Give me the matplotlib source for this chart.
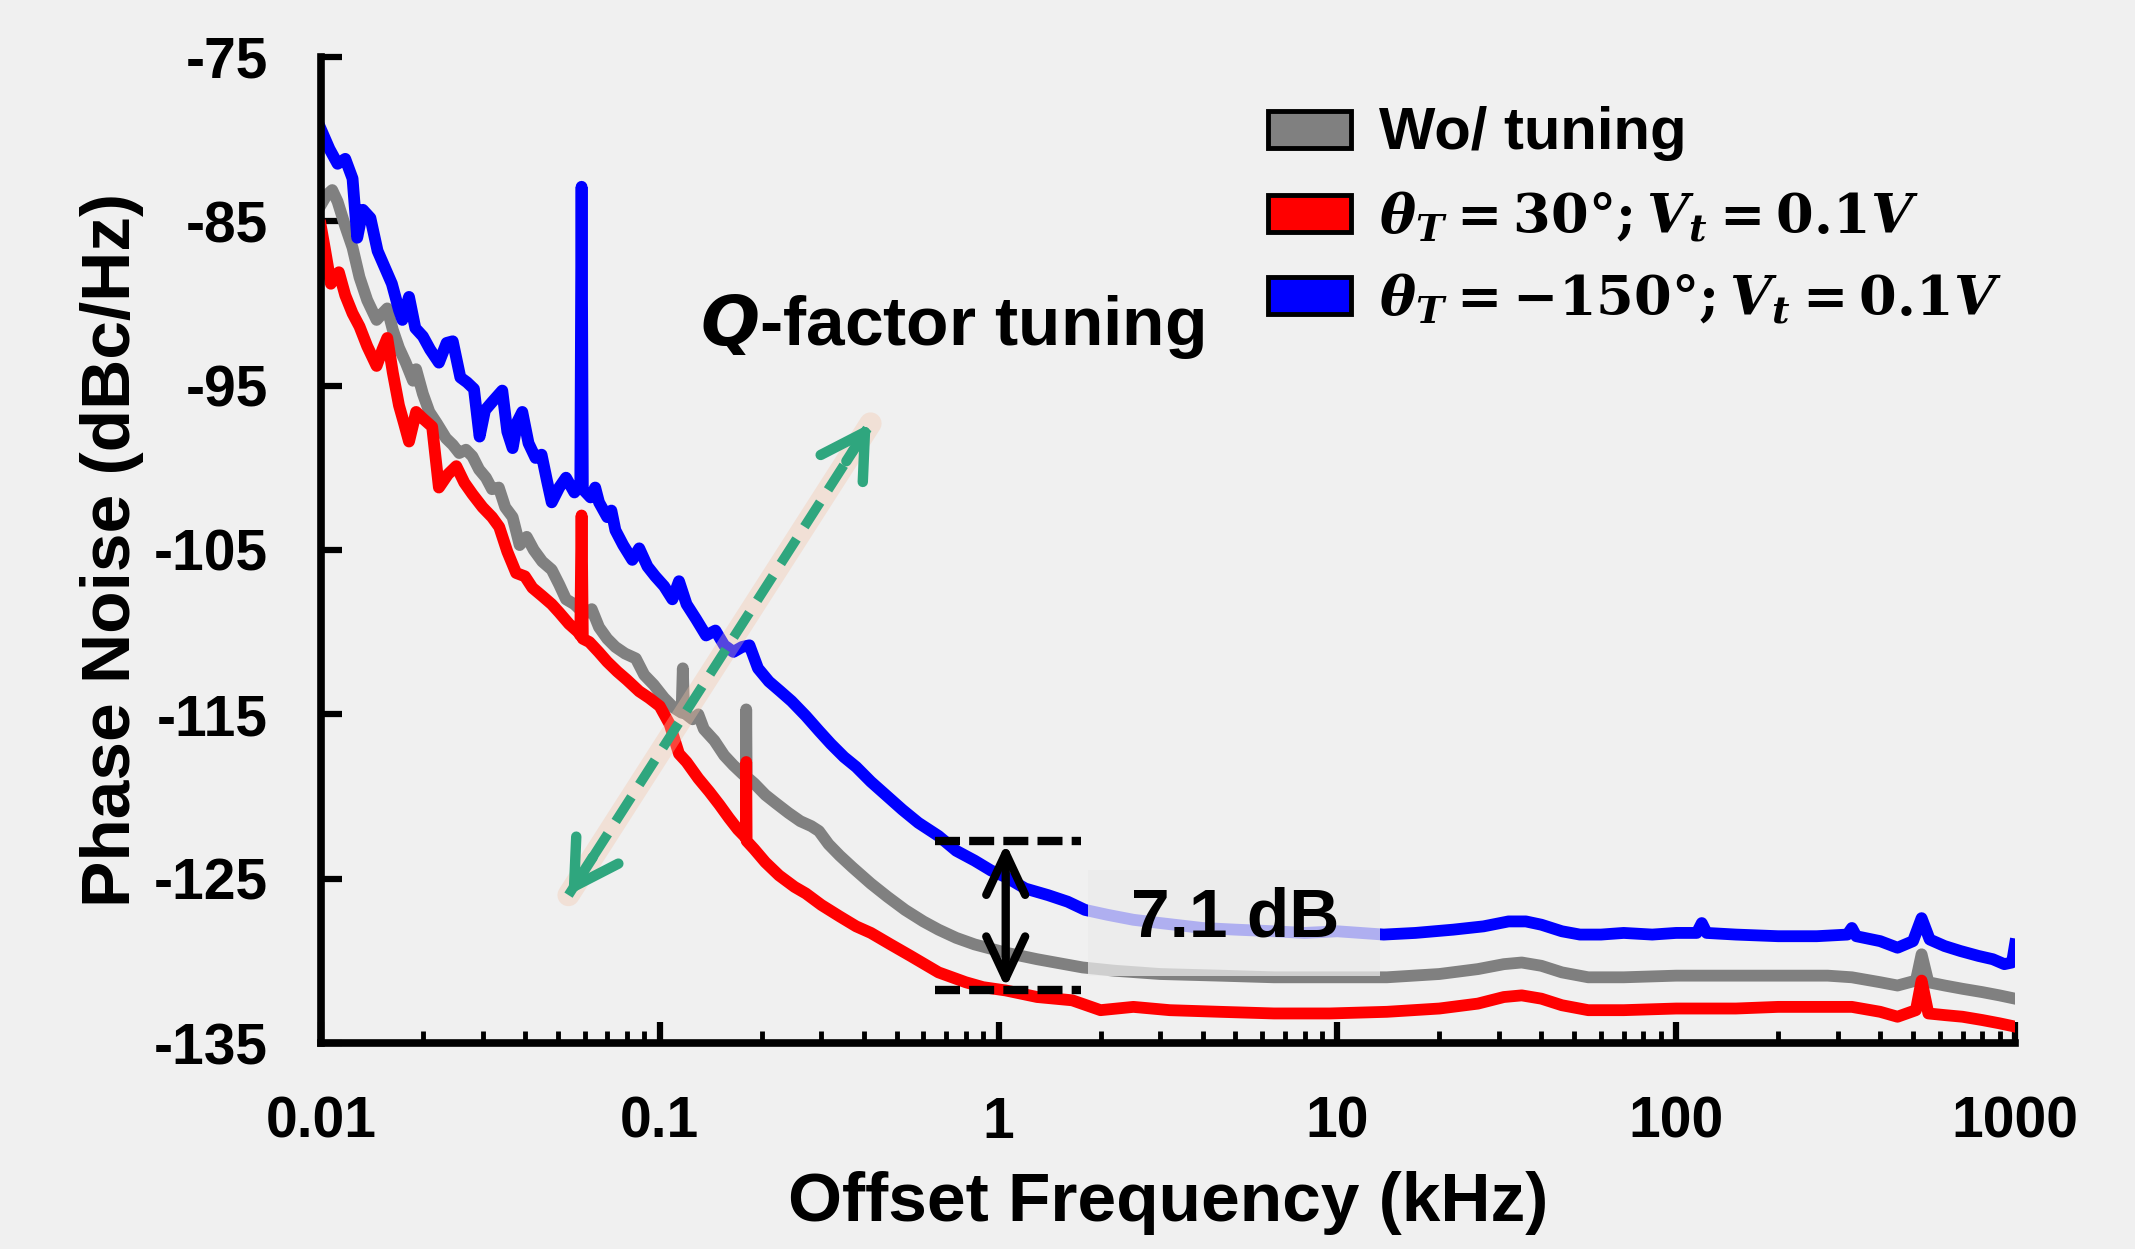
import numpy as np
import matplotlib
matplotlib.use("Agg")
import matplotlib.pyplot as plt
from matplotlib.patches import Patch, Rectangle

plt.rcParams['font.family'] = ['Liberation Sans', 'DejaVu Sans']
plt.rcParams['font.weight'] = 'bold'
plt.rcParams['axes.unicode_minus'] = False
plt.rcParams['mathtext.fontset'] = 'custom'
plt.rcParams['mathtext.rm'] = 'DejaVu Serif:bold'
plt.rcParams['mathtext.it'] = 'DejaVu Serif:italic:bold'
plt.rcParams['mathtext.bf'] = 'DejaVu Serif:bold'

BG = '#f0f0f0'

# offset frequency in kHz, phase noise in dBc/Hz
f_gray = [0.0100, 0.0104, 0.0108, 0.0112, 0.0118, 0.0124, 0.0130, 0.0137, 0.0146, 0.0152,
          0.0157, 0.0163, 0.0170, 0.0178, 0.0187, 0.0191, 0.0200, 0.0209, 0.0220, 0.0234,
          0.0245, 0.0256, 0.0268, 0.0280, 0.0293, 0.0307, 0.0320, 0.0335, 0.0350, 0.0368,
          0.0386, 0.0405, 0.0425, 0.0450, 0.0480, 0.0505, 0.0529, 0.0560, 0.0600, 0.0630,
          0.0662, 0.0700, 0.0740, 0.0790, 0.0850, 0.0900, 0.0960, 0.1030, 0.1100, 0.1160,
          0.1170, 0.1180, 0.1250, 0.1300, 0.1350, 0.1450, 0.1550, 0.1650, 0.1750, 0.1795,
          0.1800, 0.1805, 0.1900, 0.2050, 0.2200, 0.2400, 0.2600, 0.2800, 0.2950, 0.3150,
          0.3400, 0.3700, 0.4200, 0.4700, 0.5300, 0.6000, 0.6650, 0.7500, 0.8500, 1.05,
          1.3, 1.77, 2.2, 3.0, 4.5, 6.5, 9.5, 14, 20, 26,
          31, 35, 40, 46, 55, 70, 100, 150, 200, 280,
          330, 400, 450, 510, 530, 555, 620, 700, 800, 900,
          1000]
pn_gray = [-84.0, -83.4, -83.1, -83.8, -85.3, -86.6, -88.4, -89.8, -91.0, -90.6,
           -90.3, -91.6, -92.7, -93.6, -94.7, -94.0, -95.5, -96.6, -97.3, -98.2,
           -98.6, -99.1, -98.9, -99.3, -100.1, -100.6, -101.3, -101.2, -102.4, -103.0,
           -104.7, -104.2, -105.0, -105.7, -106.2, -107.1, -108.0, -108.3, -108.9, -108.6,
           -109.7, -110.4, -110.9, -111.3, -111.6, -112.6, -113.2, -114.0, -114.6, -114.9,
           -112.2, -114.9, -115.3, -115.0, -115.9, -116.6, -117.5, -118.1, -118.6, -118.8,
           -114.7, -118.8, -119.2, -119.9, -120.4, -121.0, -121.5, -121.8, -122.1, -122.9,
           -123.6, -124.3, -125.3, -126.1, -126.9, -127.6, -128.1, -128.6, -129.0, -129.5,
           -129.9, -130.4, -130.6, -130.8, -130.9, -131.0, -131.0, -131.0, -130.8, -130.5,
           -130.2, -130.1, -130.3, -130.7, -131.0, -131.0, -130.9, -130.9, -130.9, -130.9,
           -131.0, -131.3, -131.5, -131.2, -129.6, -131.3, -131.5, -131.7, -131.9, -132.1,
           -132.3]

f_red = [0.0100, 0.0103, 0.0107, 0.0110, 0.0113, 0.0118, 0.0124, 0.0130, 0.0137, 0.0146,
         0.0152, 0.0157, 0.0163, 0.0170, 0.0176, 0.0182, 0.0191, 0.0200, 0.0213, 0.0223,
         0.0237, 0.0251, 0.0265, 0.0280, 0.0300, 0.0320, 0.0336, 0.0355, 0.0377, 0.0400,
         0.0421, 0.0450, 0.0480, 0.0505, 0.0540, 0.0575, 0.0583, 0.0588, 0.0593, 0.0620,
         0.0660, 0.0700, 0.0750, 0.0800, 0.0870, 0.0930, 0.1000, 0.1070, 0.1140, 0.1200,
         0.1300, 0.1400, 0.1500, 0.1600, 0.1700, 0.1795, 0.1800, 0.1805, 0.1900, 0.2050,
         0.2250, 0.2500, 0.2700, 0.3000, 0.3400, 0.3800, 0.4200, 0.4800, 0.5500, 0.6650,
         0.8000, 0.9000, 1.05, 1.3, 1.65, 2.0, 2.5, 3.2, 4.5, 6.5,
         9.5, 14, 20, 26, 31, 35, 40, 46, 55, 70,
         100, 150, 200, 280, 330, 400, 450, 510, 530, 555,
         620, 700, 800, 900, 1000]
pn_red = [-85.3, -86.8, -88.8, -88.4, -88.1, -89.5, -90.6, -91.4, -92.6, -93.8,
          -92.8, -92.1, -94.2, -96.2, -97.3, -98.4, -96.6, -97.0, -97.5, -101.2,
          -100.4, -99.9, -100.9, -101.6, -102.4, -103.0, -103.6, -105.1, -106.4, -106.6,
          -107.3, -107.8, -108.3, -108.8, -109.5, -110.0, -110.2, -102.9, -110.4, -110.6,
          -111.2, -111.8, -112.4, -112.9, -113.6, -114.0, -114.5, -115.6, -117.4, -117.9,
          -118.9, -119.7, -120.5, -121.3, -122.0, -122.5, -117.9, -122.7, -123.2, -124.0,
          -124.8, -125.5, -125.9, -126.6, -127.3, -127.9, -128.3, -129.0, -129.7, -130.7,
          -131.3, -131.6, -131.8, -132.2, -132.4, -133.0, -132.8, -133.0, -133.1, -133.2,
          -133.2, -133.1, -132.9, -132.6, -132.2, -132.1, -132.3, -132.7, -133.0, -133.0,
          -132.9, -132.9, -132.8, -132.8, -132.8, -133.1, -133.4, -133.0, -131.2, -133.2,
          -133.3, -133.4, -133.6, -133.8, -134.0]

f_blue = [0.0100, 0.0106, 0.0112, 0.0118, 0.0124, 0.0128, 0.0133, 0.0140, 0.0147, 0.0155,
          0.0162, 0.0170, 0.0174, 0.0182, 0.0190, 0.0200, 0.0210, 0.0223, 0.0235, 0.0245,
          0.0258, 0.0270, 0.0283, 0.0294, 0.0305, 0.0320, 0.0343, 0.0355, 0.0368, 0.0380,
          0.0393, 0.0410, 0.0430, 0.0448, 0.0465, 0.0480, 0.0505, 0.0529, 0.0560, 0.0583,
          0.0588, 0.0593, 0.0625, 0.0645, 0.0662, 0.0700, 0.0720, 0.0740, 0.0780, 0.0830,
          0.0870, 0.0920, 0.0970, 0.1030, 0.1090, 0.1140, 0.1200, 0.1280, 0.1370, 0.1460,
          0.1550, 0.1650, 0.1750, 0.1840, 0.1950, 0.2100, 0.2270, 0.2450, 0.2700, 0.2950,
          0.3200, 0.3500, 0.3800, 0.4200, 0.4700, 0.5200, 0.5800, 0.6650, 0.7500, 0.8500,
          0.9500, 1.05, 1.2, 1.4, 1.6, 1.8, 2.1, 2.5, 3.0, 4.0,
          5.0, 6.5, 8.0, 10, 13.7, 17, 22, 27, 32, 36,
          40, 46, 52, 60, 70, 85, 100, 115, 119, 123,
          150, 200, 260, 320, 330, 340, 400, 450, 500, 530,
          560, 620, 690, 780, 860, 930, 980, 1000]
pn_blue = [-79.4, -80.6, -81.5, -81.2, -82.4, -86.0, -84.3, -84.8, -86.8, -87.9,
           -88.8, -90.4, -91.0, -89.6, -91.5, -92.0, -92.8, -93.6, -92.4, -92.3,
           -94.5, -94.8, -95.2, -98.1, -96.5, -96.0, -95.3, -97.8, -98.8, -97.2,
           -96.6, -98.5, -99.4, -99.2, -100.8, -102.1, -101.2, -100.6, -101.5, -101.0,
           -82.9, -101.3, -101.8, -101.2, -102.1, -103.0, -102.6, -103.8, -104.7, -105.6,
           -104.9, -106.0, -106.6, -107.2, -108.0, -106.9, -108.3, -109.2, -110.2, -109.9,
           -110.8, -111.2, -110.9, -110.8, -112.2, -113.0, -113.6, -114.2, -115.1, -116.0,
           -116.8, -117.6, -118.2, -119.1, -120.0, -120.8, -121.6, -122.4, -123.3, -123.9,
           -124.5, -124.9, -125.6, -126.0, -126.4, -126.9, -127.2, -127.5, -127.7, -128.0,
           -128.1, -128.2, -128.3, -128.2, -128.4, -128.3, -128.1, -127.9, -127.6, -127.6,
           -127.8, -128.2, -128.4, -128.4, -128.3, -128.4, -128.3, -128.3, -127.7, -128.3,
           -128.4, -128.5, -128.5, -128.4, -128.0, -128.5, -128.8, -129.2, -128.8, -127.4,
           -128.7, -129.1, -129.4, -129.7, -129.9, -130.2, -130.1, -129.0]

labels = ['Wo/ tuning',
          r'$\theta_T = 30\degree; V_t = 0.1V$',
          r'$\theta_T = {-150}\degree; V_t = 0.1V$']
colors = ['#808080', '#ff0000', '#0000ff']

x_ticks = [0.01, 0.1, 1, 10, 100, 1000]
x_ticklabels = ['0.01', '0.1', '1', '10', '100', '1000']
y_ticks = [-75, -85, -95, -105, -115, -125, -135]

# annotation anchors (kHz, dB)
q_start = (0.0538, -126.0)
q_end = (0.419, -97.3)
gap_x = 1.05
gap_top = -122.7
gap_bot = -131.8
dash_span = (0.65, 1.75)
GREEN = '#2fa67e'

fig = plt.figure(figsize=(21.35, 12.49), dpi=100, facecolor=BG)
ax = fig.add_axes([0.1503, 0.1649, 0.7935, 0.7895])
ax.set_facecolor(BG)

for f, pn, c in zip([f_gray, f_red, f_blue], [pn_gray, pn_red, pn_blue], colors):
    ax.plot(f, pn, color=c, lw=8.5, solid_joinstyle='round', zorder=3)

ax.set_xscale('log')
ax.set_xlim(0.01, 1000)
ax.set_ylim(-135, -75)
ax.set_xticks(x_ticks)
ax.set_xticklabels(x_ticklabels)
ax.set_yticks(y_ticks)

for s in ['top', 'right']:
    ax.spines[s].set_visible(False)
for s in ['left', 'bottom']:
    ax.spines[s].set_linewidth(5.5)
    ax.spines[s].set_zorder(5)

ax.tick_params(axis='both', which='major', direction='in', length=15, width=4.5,
               labelsize=41)
ax.tick_params(axis='x', pad=38)
ax.tick_params(axis='y', pad=38)
ax.tick_params(axis='x', which='minor', direction='in', length=9, width=3.5)
for lab in ax.get_xticklabels() + ax.get_yticklabels():
    lab.set_fontweight('bold')

ax.set_xlabel('Offset Frequency (kHz)', fontsize=50, fontweight='bold', labelpad=15)
ax.set_ylabel('Phase Noise (dBc/Hz)', fontsize=50, fontweight='bold', labelpad=7)

# Q-factor tuning arrow
ax.plot([q_start[0], q_end[0]], [q_start[1], q_end[1]], color='#f3c4a8', lw=16,
        alpha=0.35, solid_capstyle='round', zorder=4)
ax.plot([q_start[0], q_end[0]], [q_start[1], q_end[1]], color=GREEN, lw=7,
        dashes=(3.0, 1.5), zorder=4.5)
lx0, lx1 = np.log10(q_start[0]), np.log10(q_end[0])
for a, b in [((lx1, q_end[1]), (lx0, q_start[1])), ((lx0, q_start[1]), (lx1, q_end[1]))]:
    tail = (10 ** (b[0] + 0.08 * (a[0] - b[0])), b[1] + 0.08 * (a[1] - b[1]))
    ax.annotate('', xy=(10 ** b[0], b[1]), xytext=tail,
                arrowprops=dict(arrowstyle='->,head_length=0.62,head_width=0.36',
                                color=GREEN, lw=7.5, mutation_scale=50,
                                shrinkA=0, shrinkB=0), zorder=4.6)
ax.text(0.73, -91.4, r'$\mathit{Q}$-factor tuning', fontsize=50, fontweight='bold',
        ha='center', va='center', zorder=6, math_fontfamily='dejavusans')

# 7.1 dB gap
ax.plot(dash_span, [gap_top, gap_top], color='black', lw=6, dashes=(3.0, 1.1), zorder=4)
ax.plot(dash_span, [gap_bot, gap_bot], color='black', lw=6, dashes=(3.0, 1.1), zorder=4)
ax.annotate('', xy=(gap_x, gap_bot + 0.15), xytext=(gap_x, gap_top - 0.15),
            arrowprops=dict(arrowstyle='<->,head_length=0.6,head_width=0.28',
                            color='black', lw=6, mutation_scale=50,
                            shrinkA=0, shrinkB=0), zorder=4.5)
ax.add_patch(Rectangle((1.84, -130.9), 13.4 - 1.84, 6.4, facecolor='#ebebeb',
                       edgecolor='none', alpha=0.75, zorder=4.8))
ax.text(5.0, -127.4, '7.1 dB', fontsize=50, fontweight='bold', ha='center',
        va='center', zorder=6)

handles = [Patch(facecolor=c, edgecolor='black', lw=3.5) for c in colors]
leg = ax.legend(handles, labels, loc='upper left', bbox_to_anchor=(0.559, 0.950),
                frameon=False, fontsize=40, handlelength=1.5, handleheight=0.65,
                handletextpad=0.5, labelspacing=0.5, borderpad=0, borderaxespad=0)
legend_sizes = [43, 39, 39]
for t, size in zip(leg.get_texts(), legend_sizes):
    t.set_fontweight('bold')
    t.set_fontsize(size)

fig.savefig('out.png', dpi=100, facecolor=BG)
